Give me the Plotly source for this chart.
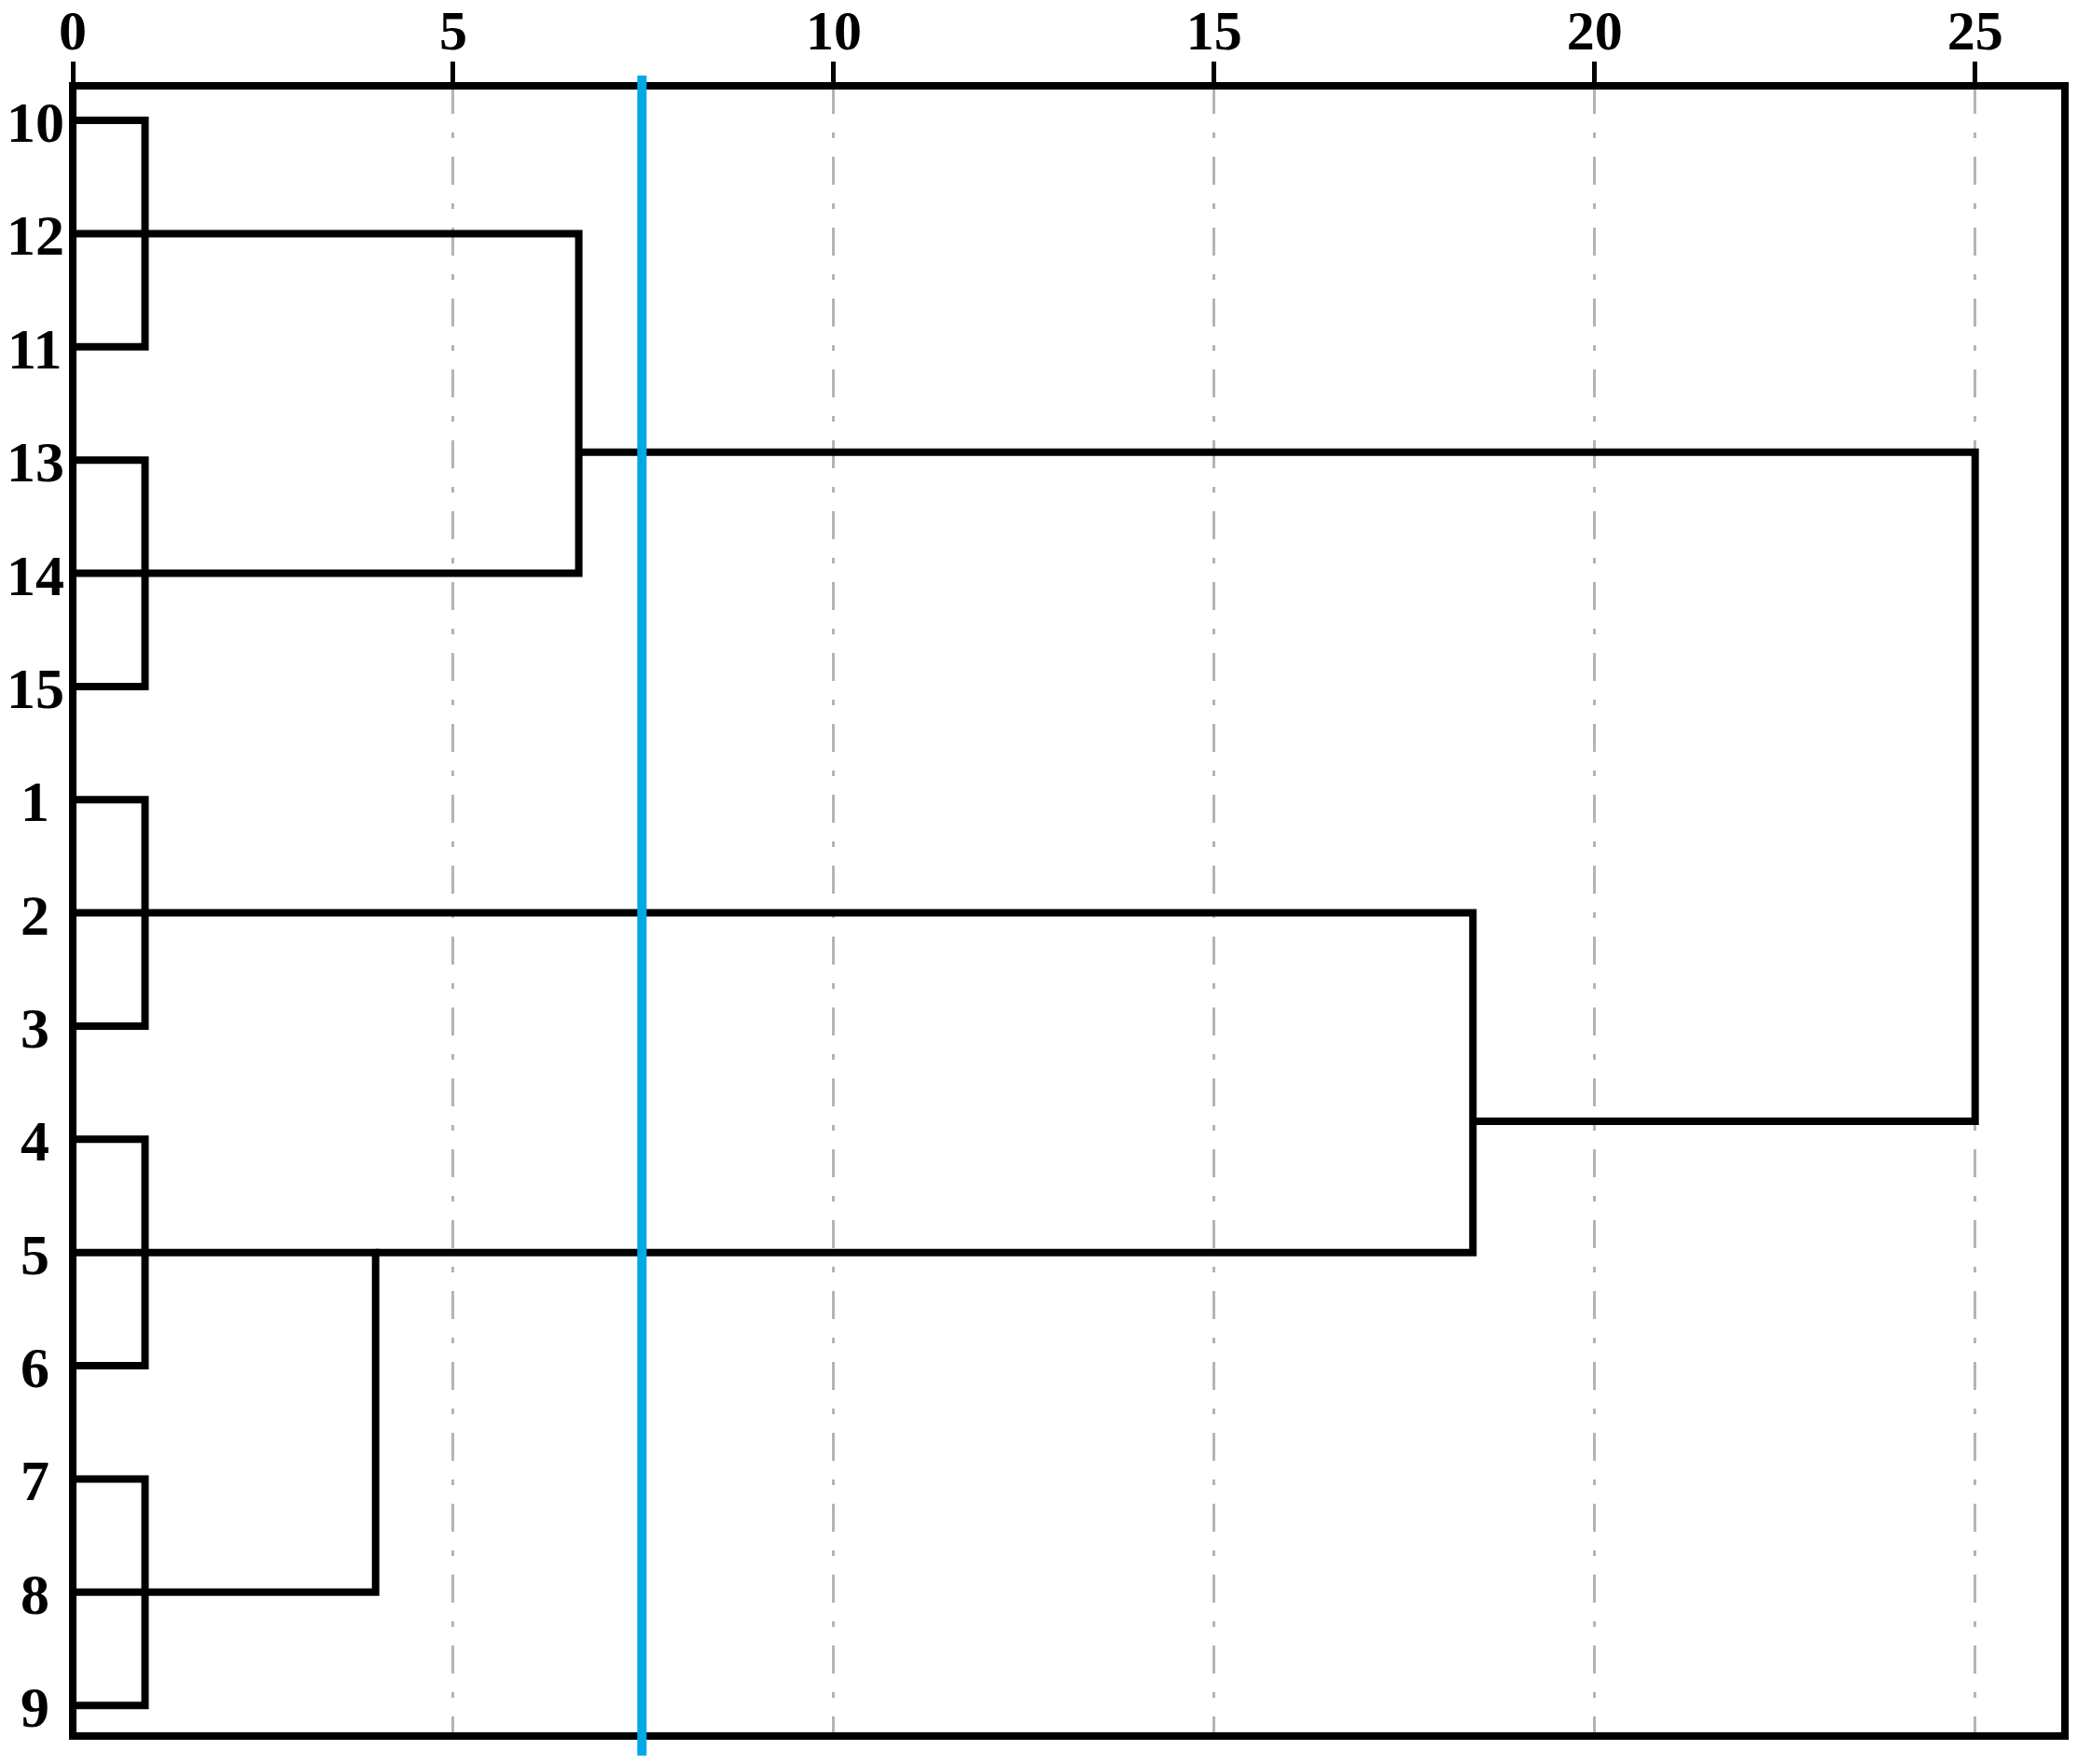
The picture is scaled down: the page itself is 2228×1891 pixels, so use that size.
import plotly.graph_objects as go

# ---------------- data ----------------
leaf_labels = ["10", "12", "11", "13", "14", "15", "1", "2", "3",
               "4", "5", "6", "7", "8", "9"]          # top -> bottom
leaf_rows = list(range(len(leaf_labels)))

# first-level groups (indices into leaf_rows) and their joining distance
group_members = [[0, 1, 2], [3, 4, 5], [6, 7, 8], [9, 10, 11], [12, 13, 14]]
group_heights = [0.95, 0.95, 0.95, 0.95, 0.95]
group_out_rows = [1, 4, 7, 10, 13]

# higher merges: children, distance, row of the outgoing line
merge_children = [("G0", "G1"), ("G3", "G4"), ("G2", "M1"), ("M0", "M2")]
merge_heights = [6.65, 3.98, 18.4, 25.0]
merge_out_rows = [2.93, 10.0, 8.84, 5.9]

cut_distance = [7.48]
x_ticks = [0, 5, 10, 15, 20, 25]

# ---------------- layout geometry ----------------
W, H = 2228, 1891
ML, MR, MT, MB = 78, 14, 92, 30
X_RANGE = [0, 26.18]
Y_RANGE = [14.27, -0.305]
FONT = "Liberation Serif"

fig = go.Figure()

nodes = {}
xs, ys = [], []
for i, (mem, h, r) in enumerate(zip(group_members, group_heights, group_out_rows)):
    top, mid, bot = [leaf_rows[m] for m in mem]
    xs += [0, h, h, 0, None, 0, h, None]
    ys += [top, top, bot, bot, None, mid, mid, None]
    nodes["G%d" % i] = (h, r)

for j, ((a, b), h, r) in enumerate(zip(merge_children, merge_heights, merge_out_rows)):
    ha, ra = nodes[a]
    hb, rb = nodes[b]
    xs += [ha, h, h, hb, None]
    ys += [ra, ra, rb, rb, None]
    nodes["M%d" % j] = (h, r)

fig.add_trace(go.Scatter(
    x=xs, y=ys, mode="lines",
    line=dict(color="black", width=8),
    hoverinfo="skip", showlegend=False, cliponaxis=False,
))

# frame around the plotting area
fig.add_shape(type="rect", xref="paper", yref="paper", x0=0, x1=1, y0=0, y1=1,
              line=dict(color="black", width=8), fillcolor="rgba(0,0,0,0)",
              layer="above")

# cut line (extends a bit past the frame)
for c in cut_distance:
    fig.add_shape(type="line", xref="x", yref="paper",
                  x0=c, x1=c, y0=-0.0119, y1=1.0062,
                  line=dict(color="#00A9E6", width=10), layer="above")

# leaf labels, centred in the left margin
lab_x = (37.5 - ML) / (W - ML - MR)
for lab, r in zip(leaf_labels, leaf_rows):
    fig.add_annotation(text=lab, xref="paper", yref="y", x=lab_x, y=r,
                       xanchor="center", yanchor="middle", showarrow=False,
                       yshift=-2,
                       font=dict(family=FONT, size=62, color="black", weight="bold"))

fig.update_layout(
    width=W, height=H,
    margin=dict(l=ML, r=MR, t=MT, b=MB, pad=0),
    paper_bgcolor="white", plot_bgcolor="white",
    showlegend=False,
    xaxis=dict(
        side="top", range=X_RANGE, tickvals=x_ticks,
        ticktext=[str(t) for t in x_ticks],
        ticks="outside", ticklen=25, tickwidth=5, tickcolor="black",
        ticklabelstandoff=-11,
        tickfont=dict(family=FONT, size=60, color="black", weight="bold"),
        showline=False,
        showgrid=True, gridcolor="#B4B4B4", gridwidth=3,
        griddash="30px,20px,6px,20px",
        zeroline=False, automargin=False,
    ),
    yaxis=dict(
        range=Y_RANGE, showticklabels=False, ticks="",
        showline=False, showgrid=False, zeroline=False, automargin=False,
    ),
)

fig.write_html("out.html",
               config={"displayModeBar": False},
               post_script="document.body.style.margin='0';"
                           "document.body.style.overflow='hidden';")
